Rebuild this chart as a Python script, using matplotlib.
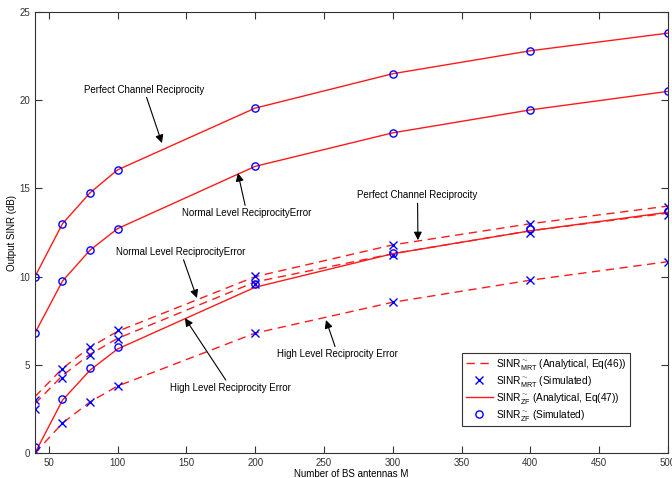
import matplotlib
matplotlib.use('Agg')
import matplotlib.pyplot as plt

plt.rcParams['font.family'] = ['Liberation Sans', 'DejaVu Sans']
plt.rcParams['mathtext.fontset'] = 'custom'
plt.rcParams['mathtext.rm'] = 'Liberation Sans'

# number of BS antennas
M = [40, 60, 80, 100, 200, 300, 400, 500]

# MRT, analytical (dashed) and simulated (x)
mrt_perfect = [3.2, 4.8, 6.0, 6.9, 10.0, 11.8, 13.0, 14.0]
mrt_perfect_sim = [3.0, 4.75, 6.0, 6.95, 10.05, 11.8, 13.0, 13.95]
mrt_normal = [2.8, 4.4, 5.6, 6.5, 9.7, 11.3, 12.6, 13.6]
mrt_normal_sim = [2.5, 4.25, 5.55, 6.45, 9.6, 11.25, 12.45, 13.5]
mrt_high = [0.0, 1.7, 2.9, 3.8, 6.8, 8.55, 9.8, 10.85]
mrt_high_sim = [0.1, 1.7, 2.9, 3.8, 6.8, 8.55, 9.8, 10.85]

# ZF, analytical (solid) and simulated (o)
zf_perfect = [10.0, 13.0, 14.75, 16.05, 19.55, 21.5, 22.8, 23.8]
zf_perfect_sim = [10.0, 13.0, 14.75, 16.05, 19.55, 21.5, 22.8, 23.8]
zf_normal = [6.8, 9.75, 11.5, 12.72, 16.25, 18.15, 19.45, 20.5]
zf_normal_sim = [6.8, 9.75, 11.5, 12.72, 16.25, 18.15, 19.45, 20.5]
zf_high = [0.0, 3.0, 4.7, 5.9, 9.4, 11.3, 12.6, 13.65]
zf_high_sim = [0.35, 3.05, 4.8, 6.0, 9.6, 11.35, 12.7, 13.7]

fig = plt.figure(figsize=(6.72, 4.78), dpi=100)
ax = fig.add_axes([0.052, 0.052, 0.942, 0.923])

red = '#ff1a1a'
blue = '#0000ff'
dash = (0, (6, 4))

for y in [mrt_perfect, mrt_normal, mrt_high]:
    ax.plot(M, y, color=red, lw=1, linestyle=dash)
for y in [mrt_perfect_sim, mrt_normal_sim, mrt_high_sim]:
    ax.plot(M, y, 'x', color=blue, ms=5.5, mew=1)
for y in [zf_perfect, zf_normal, zf_high]:
    ax.plot(M, y, color=red, lw=1)
for y in [zf_perfect_sim, zf_normal_sim, zf_high_sim]:
    ax.plot(M, y, 'o', mfc='none', mec=blue, ms=5.2, mew=1)

# legend handles
h1, = ax.plot([], [], color=red, lw=1, linestyle=dash)
h2, = ax.plot([], [], 'x', color=blue, ms=5.5, mew=1)
h3, = ax.plot([], [], color=red, lw=1)
h4, = ax.plot([], [], 'o', mfc='none', mec=blue, ms=5.2, mew=1)
leg = ax.legend([h1, h2, h3, h4],
                [r'SINR$^{\sim}_{\mathrm{MRT}}$ (Analytical, Eq(46))',
                 r'SINR$^{\sim}_{\mathrm{MRT}}$ (Simulated)',
                 r'SINR$^{\sim}_{\mathrm{ZF}}$ (Analytical, Eq(47))',
                 r'SINR$^{\sim}_{\mathrm{ZF}}$ (Simulated)'],
                loc='lower left', bbox_to_anchor=(0.675, 0.061), fontsize=7.3,
                fancybox=False, edgecolor='#333333', framealpha=1,
                handlelength=2.7, borderpad=0.35, labelspacing=0.2,
                handletextpad=0.3, borderaxespad=0)
leg.get_frame().set_linewidth(0.8)

ann = dict(arrowprops=dict(arrowstyle='-|>', color='black', lw=0.8,
                           mutation_scale=12, shrinkA=0, shrinkB=0),
           fontsize=7, ha='center', va='center')
ax.annotate('Perfect Channel Reciprocity', xy=(132.3, 17.57),
            xytext=(119.2, 20.6), **ann)
ax.annotate('Normal Level ReciprocityError', xy=(187.5, 15.87),
            xytext=(194, 13.6), **ann)
ax.annotate('Perfect Channel Reciprocity', xy=(318.3, 12.07),
            xytext=(318, 14.6), **ann)
ax.annotate('Normal Level ReciprocityError', xy=(157.7, 8.79),
            xytext=(146, 11.4), **ann)
ax.annotate('High Level Reciprocity Error', xy=(149, 7.65),
            xytext=(182.4, 3.7), **ann)
ax.annotate('High Level Reciprocity Error', xy=(251.5, 7.54),
            xytext=(260, 5.6), **ann)

ax.set_xlim(40, 500)
ax.set_ylim(0, 25)
ax.set_xticks(range(50, 501, 50))
ax.set_yticks(range(0, 26, 5))
ax.tick_params(direction='in', top=True, right=True, labelsize=7,
               length=5, width=0.8, colors='#333333', labelcolor='#333333')
for s in ax.spines.values():
    s.set_linewidth(0.8)
    s.set_color('#333333')
ax.set_xlabel('Number of BS antennas M', fontsize=7, labelpad=1)
ax.set_ylabel('Output SINR (dB)', fontsize=7, labelpad=2)

fig.savefig('out.png', dpi=100)
